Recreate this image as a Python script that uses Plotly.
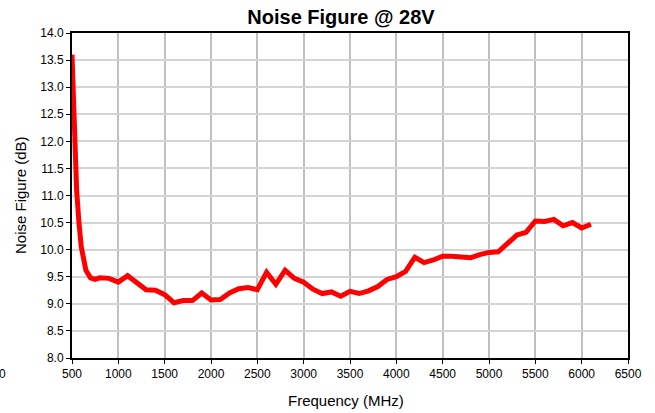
import plotly.graph_objects as go

freq_mhz = [500, 525, 550, 575, 600, 650, 700, 750, 800, 900, 1000, 1100, 1200, 1300, 1400,
            1500, 1600, 1700, 1800, 1900, 2000, 2100, 2200, 2300, 2400, 2500, 2600, 2700,
            2800, 2900, 3000, 3100, 3200, 3300, 3400, 3500, 3600, 3700, 3800, 3900, 4000,
            4100, 4200, 4300, 4400, 4500, 4600, 4700, 4800, 4900, 5000, 5100, 5200, 5300,
            5400, 5500, 5600, 5700, 5800, 5900, 6000, 6100]
noise_figure_db = [13.6, 12.1, 11.1, 10.5, 10.05, 9.62, 9.48, 9.45, 9.48, 9.47, 9.40, 9.52,
                   9.38, 9.26, 9.25, 9.17, 9.02, 9.06, 9.06, 9.20, 9.07, 9.08, 9.20, 9.28,
                   9.30, 9.26, 9.58, 9.36, 9.62, 9.47, 9.40, 9.27, 9.19, 9.22, 9.14, 9.23,
                   9.19, 9.24, 9.32, 9.45, 9.50, 9.60, 9.86, 9.76, 9.81, 9.88, 9.88, 9.86,
                   9.85, 9.91, 9.95, 9.96, 10.13, 10.27, 10.32, 10.53, 10.52, 10.56, 10.44,
                   10.50, 10.40, 10.47]

x_ticks = list(range(500, 6501, 500))
y_ticks = [8.0 + 0.5 * i for i in range(13)]

font_family = "Arial, Liberation Sans, sans-serif"

W, H = 655, 413
L, R, T, B = 72, 27, 33, 55
PW, PH = W - L - R, H - T - B


def px_x(p):
    return (p - L) / PW


def px_y(p):
    return (H - B - p) / PH


fig = go.Figure()
fig.add_trace(go.Scatter(
    x=freq_mhz, y=noise_figure_db, mode="lines",
    line=dict(color="#FF0000", width=5),
    showlegend=False, hoverinfo="x+y",
))

fig.update_layout(
    width=W, height=H,
    margin=dict(l=L, r=R, t=T, b=B, autoexpand=False),
    paper_bgcolor="white", plot_bgcolor="white",
    font=dict(family=font_family, size=12, color="black"),
    title=dict(text="<b>Noise Figure @ 28V</b>", xref="container", x=341 / W,
               xanchor="center", yref="container", y=1 - 17 / H, yanchor="middle",
               font=dict(size=20, family=font_family)),
    xaxis=dict(
        range=[500, 6500], tickvals=x_ticks, ticktext=[str(v) for v in x_ticks],
        showgrid=True, gridcolor="#C0C0C0", gridwidth=2,
        showline=True, linecolor="black", linewidth=2, mirror=True,
        ticks="outside", ticklen=4, tickcolor="black", tickwidth=1,
        zeroline=False, fixedrange=True, automargin=False,
    ),
    yaxis=dict(
        range=[8.0, 14.0], tickvals=y_ticks, ticktext=[f"{v:.1f}" for v in y_ticks],
        showgrid=True, gridcolor="#D4D4D4", gridwidth=1.5,
        showline=True, linecolor="black", linewidth=2, mirror=True,
        ticks="outside", ticklen=4, tickcolor="black", tickwidth=1,
        zeroline=False, fixedrange=True, automargin=False,
    ),
    annotations=[
        dict(text="Frequency (MHz)", xref="paper", yref="paper",
             x=px_x(346), y=px_y(400), xanchor="center", yanchor="middle",
             showarrow=False, font=dict(size=15, family=font_family)),
        dict(text="Noise Figure (dB)", xref="paper", yref="paper", textangle=-90,
             x=px_x(20), y=px_y(195), xanchor="center", yanchor="middle",
             showarrow=False, font=dict(size=15, family=font_family)),
        dict(text="0", xref="paper", yref="paper",
             x=px_x(8), y=px_y(374),
             xanchor="right", yanchor="middle", showarrow=False,
             font=dict(size=12, family=font_family)),
    ],
)

fig.write_html("out.html", config={"displayModeBar": False},
               post_script="document.body.style.margin='0';document.body.style.overflow='hidden';")
